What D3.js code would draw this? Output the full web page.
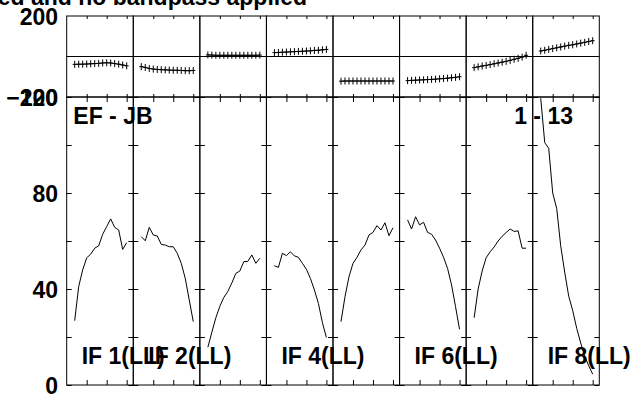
<!DOCTYPE html>
<html>
<head>
<meta charset="utf-8">
<script src="https://cdn.jsdelivr.net/npm/d3@7"></script>
<style>
  html, body { margin: 0; padding: 0; background: #fff; }
  svg { display: block; }
  text { font-family: "Liberation Sans", Arial, sans-serif; font-weight: bold; fill: #000; }
</style>
</head>
<body>
<svg id="chart" width="636" height="394"></svg>
<script>
// ---- data ----
const ifs = [1, 2, 3, 4, 5, 6, 7, 8];
const channels = [2, 3, 4, 5, 6, 7, 8, 9, 10, 11, 12, 13, 14, 15];
const ifLabelsShown = [1, 2, 4, 6, 8];

const ampIF1 = [26.8, 41, 48, 53, 54.5, 57, 58, 62.8, 66, 69.2, 65.7, 64.6, 56.5, 59.3];
const ampIF2 = [61.8, 60.1, 65.7, 62.5, 62.1, 58.6, 58.3, 57.6, 57.6, 54.9, 50.7, 44.4, 35.4, 26.4];
const ampIF3 = [15.7, 22, 28, 32.8, 36.5, 39, 42.5, 46.5, 47.5, 51.4, 51.5, 54.2, 50.7, 52.8];
const ampIF4 = [49.7, 49, 54.9, 53.9, 55.5, 53.8, 53.2, 50.7, 48.2, 44.4, 39.6, 34, 26, 19.8];
const ampIF5 = [26.4, 36.8, 45.1, 50.7, 53.2, 56.3, 58.3, 62.5, 63.6, 66.4, 64.6, 67.6, 62.2, 65.5];
const ampIF6 = [68.8, 65, 70.1, 66.7, 67.8, 63.6, 62.8, 60.4, 57, 53.2, 48.6, 41.7, 32.6, 23.2];
const ampIF7 = [28, 40, 47.5, 53, 55.5, 57.5, 60, 62, 63.5, 65, 64, 64.2, 57, 57];
const ampIF8 = [119.5, 101, 98.6, 80, 73.5, 58, 47, 37, 31, 23.6, 17.5, 12, 8, 4.5];

const phIF1 = [-39, -38, -38, -37, -36, -35, -34, -32, -31, -32, -35, -38, -42, -46];
const phIF2 = [-50, -54, -59, -62, -64, -65, -66, -67, -68, -68, -69, -70, -70, -69];
const phIF3 = [8, 7, 6, 6, 6, 6, 6, 6, 6, 6, 6, 6, 6, 7];
const phIF4 = [19, 20, 21, 22, 23, 24, 25, 26, 27, 28, 30, 31, 33, 35];
const phIF5 = [-122, -121, -121, -121, -121, -121, -121, -121, -121, -121, -121, -121, -121, -121];
const phIF6 = [-119, -118, -117, -116, -115, -114, -113, -112, -110, -109, -107, -105, -103, -100];
const phIF7 = [-55, -51, -47, -44, -40, -36, -32, -28, -24, -19, -14, -9, -3, 6];
const phIF8 = [27, 31, 35, 39, 43, 47, 51, 55, 58, 62, 66, 70, 74, 78];

const ampTicks = [0, 20, 40, 60, 80, 100, 120];
const ampLabels = [0, 40, 80, 120];
const phaseLabels = [200, -200];
const chanTicks = [5, 10, 15];
const titleText = "ed and no bandpass applied";
const baselineText = "EF - JB";
const timeText = "1 - 13";

const amps = [ampIF1, ampIF2, ampIF3, ampIF4, ampIF5, ampIF6, ampIF7, ampIF8];
const phases = [phIF1, phIF2, phIF3, phIF4, phIF5, phIF6, phIF7, phIF8];

// ---- layout ----
const L = { left: 66.7, right: 599.3, top: 16, mid: 97, bottom: 385 };
const fs = 23;

const svg = d3.select("#chart");
const xBand = d3.scaleBand().domain(ifs).range([L.left, L.right]).paddingInner(0).paddingOuter(0);
const xCh = d3.scaleLinear().domain([0, 16.65]).range([0, xBand.bandwidth()]);
const yPh = d3.scaleLinear().domain([-200, 200]).range([L.mid, L.top]);
const yAmp = d3.scaleLinear().domain([0, 120]).range([L.bottom, L.mid]);

const g = svg.append("g");

// panels
ifs.forEach((f, i) => {
  const x0 = xBand(f);
  const w = xBand.bandwidth();
  const pg = g.append("g").attr("transform", `translate(${x0},0)`);

  // borders
  pg.append("rect").attr("x", 0).attr("y", L.top).attr("width", w).attr("height", L.mid - L.top)
    .attr("fill", "none").attr("stroke", "#000").attr("stroke-width", 1);
  pg.append("rect").attr("x", 0).attr("y", L.mid).attr("width", w).attr("height", L.bottom - L.mid)
    .attr("fill", "none").attr("stroke", "#000").attr("stroke-width", 1);

  // channel ticks
  const addX = (axisFn, y, size) => {
    const a = pg.append("g").attr("transform", `translate(0,${y})`)
      .call(axisFn(xCh).tickValues(chanTicks).tickSize(size).tickFormat(""));
    a.select(".domain").remove();
    a.selectAll("line").attr("stroke", "#000");
  };
  addX(d3.axisBottom, L.top, 3);
  addX(d3.axisTop, L.mid, 3);
  addX(d3.axisBottom, L.mid, 5);
  addX(d3.axisTop, L.bottom, 5);

  // amplitude y ticks (inward on both sides)
  const la = pg.append("g").call(d3.axisRight(yAmp).tickValues(ampTicks).tickSize(5).tickFormat(""));
  la.select(".domain").remove();
  la.selectAll("line").attr("stroke", "#000");
  const ra = pg.append("g").attr("transform", `translate(${w},0)`)
    .call(d3.axisLeft(yAmp).tickValues(ampTicks).tickSize(5).tickFormat(""));
  ra.select(".domain").remove();
  ra.selectAll("line").attr("stroke", "#000");

  // amplitude line
  const lineA = d3.line().x((d, k) => xCh(channels[k])).y(d => yAmp(d));
  pg.append("path").datum(amps[i]).attr("d", lineA)
    .attr("fill", "none").attr("stroke", "#000").attr("stroke-width", 1);

  // phase line + crosses
  const lineP = d3.line().x((d, k) => xCh(channels[k])).y(d => yPh(d));
  pg.append("path").datum(phases[i]).attr("d", lineP)
    .attr("fill", "none").attr("stroke", "#000").attr("stroke-width", 1);
  pg.selectAll(".cross").data(phases[i]).enter().append("path")
    .attr("d", (d, k) => {
      const cx = xCh(channels[k]), cy = yPh(d);
      return `M${cx},${cy - 3.5}V${cy + 3.5}M${cx - 2},${cy}H${cx + 2}`;
    })
    .attr("stroke", "#000").attr("stroke-width", 1);

  // IF label
  if (ifLabelsShown.includes(f)) {
    pg.append("text").attr("x", 15).attr("y", 364).attr("font-size", fs)
      .text(`IF ${f}(LL)`);
  }
});

// zero phase line
g.append("line").attr("x1", L.left).attr("x2", L.right).attr("y1", yPh(0)).attr("y2", yPh(0))
  .attr("stroke", "#000").attr("stroke-width", 1);

// y labels
const ampAx = g.append("g").attr("transform", `translate(${L.left},0)`)
  .call(d3.axisLeft(yAmp).tickValues(ampLabels).tickSize(0).tickPadding(8.7));
ampAx.select(".domain").remove();
ampAx.selectAll("text").attr("font-size", fs).attr("font-family", null).attr("dy", "0.36em");

const phAx = g.append("g").attr("transform", `translate(${L.left},0)`)
  .call(d3.axisLeft(yPh).tickValues(phaseLabels).tickSize(0).tickPadding(8.7));
phAx.select(".domain").remove();
phAx.selectAll("text").attr("font-size", fs).attr("font-family", null).attr("dy", "0.36em");

// texts
svg.append("text").attr("x", 307).attr("y", 4.5).attr("text-anchor", "end")
  .attr("font-size", fs).text(titleText);
svg.append("text").attr("x", 73.3).attr("y", 124).attr("font-size", fs).text(baselineText);
svg.append("text").attr("x", 573).attr("y", 123.5).attr("text-anchor", "end")
  .attr("font-size", fs).text(timeText);
</script>
</body>
</html>
